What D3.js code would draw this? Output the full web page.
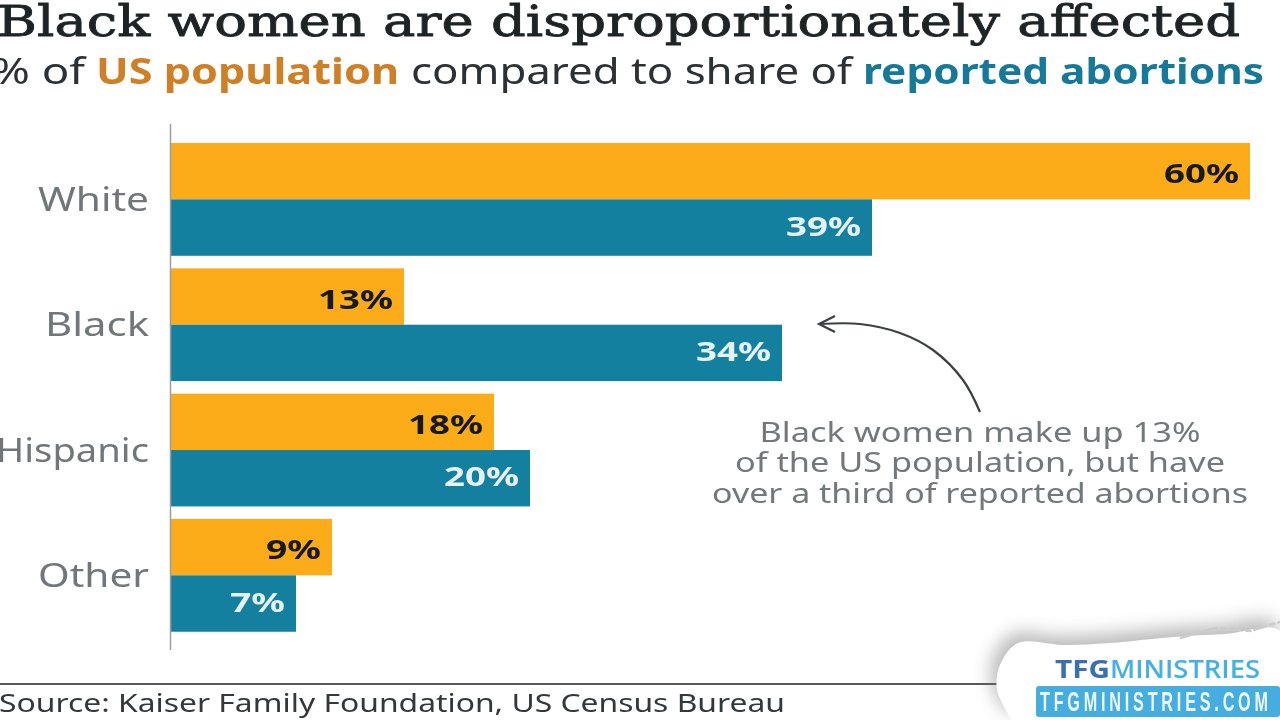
<!DOCTYPE html>
<html><head><meta charset="utf-8">
<script src="https://cdn.jsdelivr.net/npm/d3@7/dist/d3.min.js"></script>
<style>html,body{margin:0;padding:0;background:#fff;overflow:hidden}svg{display:block;filter:blur(0.5px)}</style>
</head><body><svg id="c" width="1280" height="720"></svg>
<script>
const categories = ["White","Black","Hispanic","Other"];
const population = [60,13,18,9];
const abortions = [39,34,20,7];
const seriesNames = ["US population","reported abortions"];
const tickSuffix = "%";
const noteLines = ["Black women make up 13%","of the US population, but have","over a third of reported abortions"];

const ORANGE="#fbac18", BLUE="#14809f", SANS="'Noto Sans','Open Sans',sans-serif";
const svg=d3.select("#c");
const x=d3.scaleLinear().domain([0,60]).range([170,1250]);
const y=d3.scaleBand().domain(categories).range([136.73,638]).paddingInner(0.1).paddingOuter(0.05);
const inner=d3.scaleBand().domain(seriesNames).range([0,y.bandwidth()]);
const fit=(s,w)=>s.attr("textLength",w).attr("lengthAdjust","spacingAndGlyphs");

// title + subtitle
fit(svg.append("text").attr("x",-3).attr("y",36).attr("font-family","'DejaVu Serif',serif").attr("font-size",43).attr("fill","#1e2426").attr("stroke","#1e2426").attr("stroke-width",0.8).text("Black women are disproportionately affected"),1243);
const sub=[["% of",-8,93,"#2b3134",400],["US population",96,303,"#cf7f26",700],["compared to share of",411,441,"#2b3134",400],["reported abortions",863,401,"#17799a",700]];
sub.forEach(d=>fit(svg.append("text").attr("x",d[1]).attr("y",84).attr("font-family",SANS).attr("font-size",36).attr("font-weight",d[4]).attr("fill",d[3]).text(d[0]),d[2]));

// bars
const rows=categories.map((c,i)=>({c,v:[population[i],abortions[i]]}));
const g=svg.selectAll("g.row").data(rows).join("g").attr("class","row").attr("transform",d=>`translate(0,${y(d.c)})`);
g.selectAll("rect").data(d=>d.v.map((v,i)=>({v,s:seriesNames[i],i}))).join("rect")
 .attr("x",x(0)).attr("y",d=>inner(d.s)).attr("width",d=>x(d.v)-x(0)).attr("height",inner.bandwidth())
 .attr("fill",d=>d.i?BLUE:ORANGE);
g.selectAll("text").data(d=>d.v.map((v,i)=>({v,s:seriesNames[i],i}))).join("text")
 .attr("x",d=>x(d.v)-11).attr("y",d=>inner(d.s)+inner.bandwidth()/2+(d.i?8:12)).attr("text-anchor","end")
 .attr("font-family",SANS).attr("font-weight",700).attr("font-size",27.5)
 .attr("fill",d=>d.i?"#e6f3f6":"#16191a").text(d=>d.v+tickSuffix)
 .attr("textLength",d=>String(d.v).length>1?75:55).attr("lengthAdjust","spacingAndGlyphs");

// axis
const ax=svg.append("g").attr("transform","translate(170,0)").call(d3.axisLeft(y).tickSize(0).tickPadding(21));
ax.select(".domain").attr("d","M0.5,124V650").attr("stroke","#9a9ea0").attr("stroke-width",1.5);
ax.selectAll("text").attr("font-family",SANS).attr("font-size",32.5).attr("fill","#70767a").attr("dy","0.36em")
  .attr("textLength",d=>({White:111,Black:104,Hispanic:153,Other:111}[d])).attr("lengthAdjust","spacingAndGlyphs");

// note
const widths=[441,490,536];
noteLines.forEach((t,i)=>fit(svg.append("text").attr("x",980).attr("y",442+i*30.3).attr("text-anchor","middle").attr("font-family",SANS).attr("font-size",27).attr("fill","#73787b").text(t),widths[i]));
svg.append("path").attr("d",d3.line().curve(d3.curveCatmullRom)([[980,412],[963,380],[933,350],[900,333],[860,324],[820,324]])).attr("fill","none").attr("stroke","#3c4042").attr("stroke-width",2.2);
svg.append("path").attr("d",d3.line()([[835,316],[819,324],[835,332]])).attr("fill","none").attr("stroke","#3c4042").attr("stroke-width",2.2);

// footer
svg.append("line").attr("x1",0).attr("x2",1000).attr("y1",684).attr("y2",684).attr("stroke","#55595b").attr("stroke-width",2);
fit(svg.append("text").attr("x",-1).attr("y",712).attr("font-family",SANS).attr("font-size",25).attr("fill","#33383a").text("Source: Kaiser Family Foundation, US Census Bureau"),786);

// watermark
const defs=svg.append("defs");
const f=defs.append("filter").attr("id","sh").attr("x","-20%").attr("y","-40%").attr("width","140%").attr("height","180%");
f.append("feGaussianBlur").attr("stdDeviation",9);
const blob=d3.line().curve(d3.curveCatmullRom)([[1012,720],[997,690],[1000,665],[1018,643],[1065,645],[1110,643],[1173,637],[1225,634],[1280,631],[1280,720]]);
svg.append("path").attr("d",blob).attr("fill","#777").attr("opacity",.5).attr("transform","translate(-6,-9)").attr("filter","url(#sh)");
svg.append("path").attr("d",blob).attr("fill","#fff");
svg.append("path").attr("d",d3.line()([[1180,638],[1215,628],[1250,631],[1280,622]])).attr("fill","none").attr("stroke","#c9cbcc").attr("stroke-width",2.5).attr("stroke-dasharray","14 3 6 2");
fit(svg.append("text").attr("x",1055).attr("y",678).attr("font-family","'Open Sans',sans-serif").attr("font-weight",700).attr("font-size",25).attr("fill","#3a6fb0").text("TFG"),55);
fit(svg.append("text").attr("x",1110).attr("y",678).attr("font-family","'Open Sans',sans-serif").attr("font-weight",600).attr("font-size",25).attr("fill","#45b1e2").text("MINISTRIES"),150);
svg.append("rect").attr("x",1036).attr("y",686).attr("width",244).attr("height",31).attr("rx",3).attr("fill","#45ade0");
svg.append("text").attr("transform","translate(1040,711) scale(0.6,1)").attr("font-family","'Liberation Sans',sans-serif").attr("font-weight",700).attr("font-size",27).attr("fill","#eef8fc").attr("textLength",380).attr("lengthAdjust","spacing").text("TFGMINISTRIES.COM");
</script></body></html>
